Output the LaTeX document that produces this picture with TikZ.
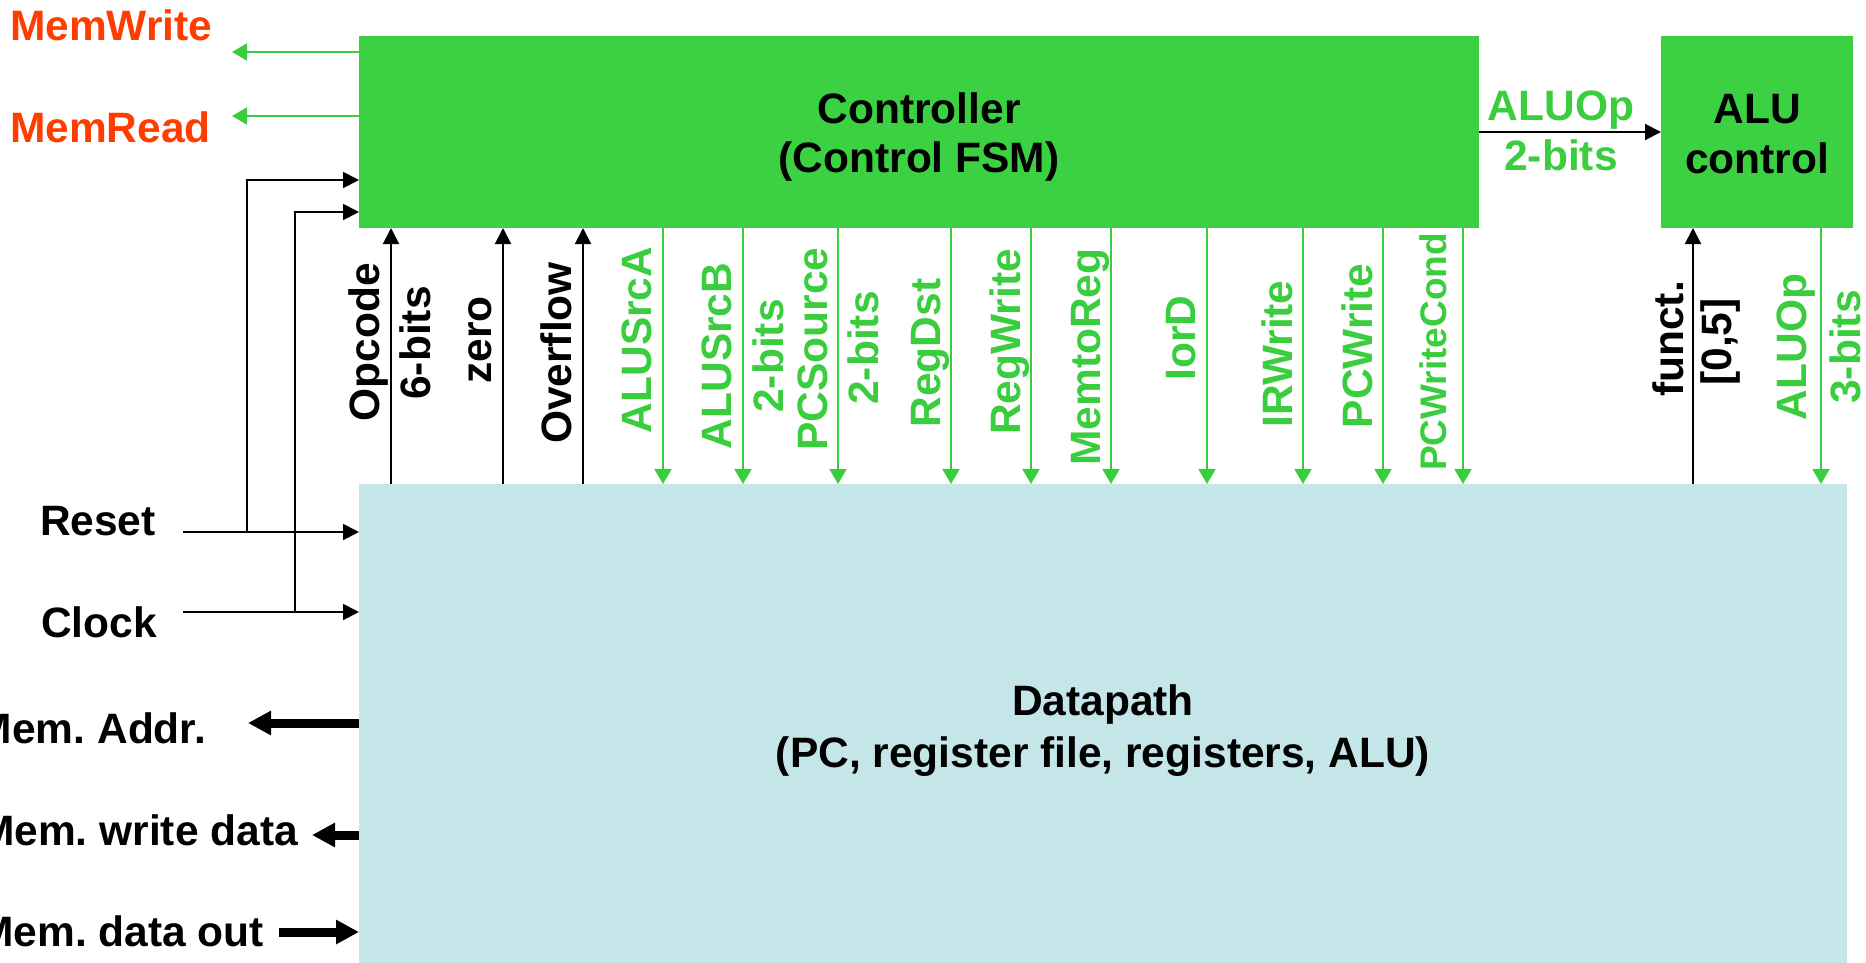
\documentclass[tikz,border=0pt]{standalone}
\usepackage{fontspec}
\setmainfont{Liberation Sans}
\usetikzlibrary{arrows.meta}

\definecolor{ctrlgreen}{RGB}{59,209,67}
\definecolor{siggreen}{RGB}{58,205,62}
\definecolor{memred}{RGB}{255,61,0}
\definecolor{dpblue}{RGB}{196,230,232}

\begin{document}
\frenchspacing
\begin{tikzpicture}[x=1pt,y=-1pt,
  every node/.style={inner sep=0pt, outer sep=0pt,
    font=\fontsize{42.5}{50}\selectfont\bfseries},
  hlbl/.style={anchor=base},
  vlbl/.style={rotate=90, anchor=base},
  glbl/.style={vlbl, text=siggreen},
  blockbox/.style={fill=#1, draw=none},
  barr/.style={draw=black, line width=2pt, -{Triangle[length=16pt,width=16pt]}},
  garr/.style={draw=siggreen, line width=2pt, -{Triangle[length=15pt,width=17pt]}},
  bus/.style={draw=black, line width=9pt, -{Triangle[length=23pt,width=23pt]}},
]
\useasboundingbox (0,0) rectangle (1866,962);
\clip (0,0) rectangle (1866,962);

% ---- blocks ----
\node[blockbox=ctrlgreen, minimum width=1120pt, minimum height=192pt] (ctrl) at (919,132) {};
\node[blockbox=ctrlgreen, minimum width=192pt, minimum height=192pt] (aluc) at (1757,132) {};
\node[blockbox=dpblue, minimum width=1488pt, minimum height=500pt] (dp) at (1103,734) {};

% block titles
\node[hlbl] (ctrlT1) at (919,123) {Controller};
\node[hlbl] (ctrlT2) at (919,172.5) {(Control FSM)};
\node[hlbl] (alucT1) at (1757,123) {ALU};
\node[hlbl] (alucT2) at (1757,173) {control};
\node[hlbl] (dpT1) at (1103,715) {Datapath};
\node[hlbl] (dpT2) at (1103,767) {(PC, register file, registers, ALU)};

% ---- memory control outputs ----
\node[hlbl, anchor=base west, text=memred] (memw) at (10,40) {MemWrite};
\node[hlbl, anchor=base west, text=memred] (memr) at (10,142) {MemRead};
\coordinate (memwEnd) at (232,52);
\coordinate (memrEnd) at (232,116);
\draw[garr] (ctrl.west |- memwEnd) -- (memwEnd);
\draw[garr] (ctrl.west |- memrEnd) -- (memrEnd);

% ---- reset and clock ----
\node[hlbl, anchor=base west] (rst) at (40,535) {Reset};
\node[hlbl, anchor=base west] (clk) at (41,637) {Clock};
\coordinate (rstIn) at (183,532);
\coordinate (clkIn) at (183,612);
\coordinate (rstJ) at (247,532);
\coordinate (clkJ) at (295,612);
\draw[barr] (rstIn) -- (rstIn -| dp.west);
\draw[barr] (clkIn) -- (clkIn -| dp.west);
\draw[barr] (rstJ) |- (ctrl.west |- 0,180);
\draw[barr] (clkJ) |- (ctrl.west |- 0,212);

% ---- memory buses ----
\node[hlbl, anchor=base east] (maddr) at (206,743) {Mem. Addr.};
\node[hlbl, anchor=base east] (mwdata) at (298,845) {Mem. write data};
\node[hlbl, anchor=base east] (mdout) at (264,946) {Mem. data out};
\coordinate (maddrEnd) at (248,723);
\coordinate (mwdataEnd) at (312,835);
\coordinate (mdoutIn) at (279,932);
\draw[bus] (dp.west |- maddrEnd) -- (maddrEnd);
\draw[bus] (dp.west |- mwdataEnd) -- (mwdataEnd);
\draw[bus] (mdoutIn) -- (mdoutIn -| dp.west);

% ---- status signals into the controller ----
\draw[barr] (391,0 |- dp.north) -- (391,0 |- ctrl.south);
\draw[barr] (503,0 |- dp.north) -- (503,0 |- ctrl.south);
\draw[barr] (583,0 |- dp.north) -- (583,0 |- ctrl.south);
\node[vlbl] (opc) at (379,342) {Opcode};
\node[vlbl] (opcBits) at (430,343) {6-bits};
\node[vlbl] (zero) at (491,340) {zero};
\node[vlbl] (ovf) at (571,353) {Overflow};

% ---- control signals into the datapath ----
\foreach \x in {663,743,838,951,1031,1111,1207,1303,1383,1463}
  \draw[garr] (\x,0 |- ctrl.south) -- (\x,0 |- dp.north);
\node[glbl] (srcA) at (651,340) {ALUSrcA};
\node[glbl] (srcB) at (731,356) {ALUSrcB};
\node[glbl] (srcBBits) at (783,356) {2-bits};
\node[glbl] (pcsrc) at (827,349) {PCSource};
\node[glbl] (pcsrcBits) at (878,348) {2-bits};
\node[glbl] (regdst) at (940,353) {RegDst};
\node[glbl] (regwr) at (1020,342) {RegWrite};
\node[glbl] (memtoreg) at (1100,357) {MemtoReg};
\node[glbl] (iord) at (1195,338) {IorD};
\node[glbl] (irwr) at (1292,354) {IRWrite};
\node[glbl] (pcwr) at (1372,346) {PCWrite};
\node[glbl, font=\fontsize{37}{44}\selectfont\bfseries] (pcwrc) at (1446,352) {PCWriteCond};

% ---- ALU control ----
\draw[barr] (ctrl.east) -- (aluc.west);
\node[hlbl, text=siggreen] (aluopT) at (1561,120) {ALUOp};
\node[hlbl, text=siggreen] (aluopBits) at (1561,170) {2-bits};
\draw[barr] (1693,0 |- dp.north) -- (1693,0 |- aluc.south);
\draw[garr] (1821,0 |- aluc.south) -- (1821,0 |- dp.north);
\node[vlbl] (funct) at (1683,339) {funct.};
\node[vlbl] (functRange) at (1731,342) {[0,5]};
\node[glbl] (aluop3) at (1806,347) {ALUOp};
\node[glbl] (aluop3Bits) at (1860,347) {3-bits};
\end{tikzpicture}
\end{document}
